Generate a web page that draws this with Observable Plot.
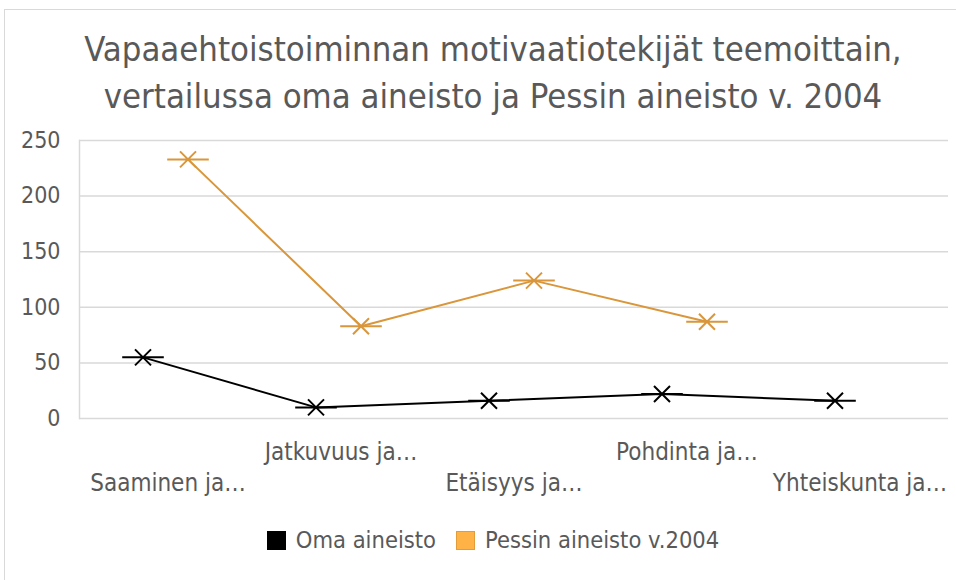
<!DOCTYPE html>
<html>
<head>
<meta charset="utf-8">
<script src="https://cdn.jsdelivr.net/npm/d3@7"></script>
<script src="https://cdn.jsdelivr.net/npm/@observablehq/plot@0.6"></script>
<style>
  html, body { margin: 0; padding: 0; background: #fff; }
  #wrap { position: relative; width: 956px; height: 580px; overflow: hidden; font-family: "DejaVu Sans Condensed", "DejaVu Sans", sans-serif; color: #595959; }
  #frame { position: absolute; left: 4px; top: 9px; width: 960px; height: 600px; border: 1px solid #d9d9d9; box-sizing: border-box; }
  #title { position: absolute; left: 15px; top: 26px; width: 956px; text-align: center; font-size: 34.4px; line-height: 47px; }
  #chart { position: absolute; left: 0; top: 120px; }
  #legend { position: absolute; left: 15px; top: 527px; width: 956px; display: flex; justify-content: center; align-items: center; font-size: 23.5px; line-height: 26px; }
  .sw { display: inline-block; width: 19px; height: 19px; margin-right: 10px; box-sizing: border-box; }
  .item { display: flex; align-items: center; margin: 0 10px; }
</style>
</head>
<body>
<div id="wrap">
  <div id="frame"></div>
  <div id="title">Vapaaehtoistoiminnan motivaatiotekijät teemoittain,<br>vertailussa oma aineisto ja Pessin aineisto v. 2004</div>
  <div id="chart"></div>
  <div id="legend"></div>
</div>
<script>
const categories = ["Saaminen ja…", "Jatkuvuus ja…", "Etäisyys ja…", "Pohdinta ja…", "Yhteiskunta ja…"];
const omaValues = [55, 10, 16, 22, 16];
const pessiValues = [233, 83, 124, 87, null];
const seriesNames = ["Oma aineisto", "Pessin aineisto v.2004"];
const yTicks = [0, 50, 100, 150, 200, 250];

const omaColor = "#000000";
const pessiColor = "#D9963A";

const oma = categories.map((c, i) => ({cat: c, value: omaValues[i]}));
const pessi = categories.map((c, i) => ({cat: c, value: pessiValues[i]})).filter(d => d.value != null);

const starDash = {
  draw(context, size) {
    const s = Math.sqrt(size / Math.PI);
    context.moveTo(-s, -s); context.lineTo(s, s);
    context.moveTo(-s, s); context.lineTo(s, -s);
    context.moveTo(-2.6 * s, 0); context.lineTo(2.6 * s, 0);
  }
};

const chart = Plot.plot({
  width: 956,
  height: 380,
  marginTop: 20,
  marginBottom: 82,
  marginLeft: 79,
  marginRight: 8,
  style: {fontFamily: "'DejaVu Sans Condensed', 'DejaVu Sans', sans-serif", fontSize: "22px", color: "#595959", background: "transparent"},
  x: {type: "band", domain: categories, padding: 0},
  y: {domain: [0, 250]},
  marks: [
    Plot.ruleY(yTicks, {stroke: "#d9d9d9", strokeWidth: 1.5}),
    Plot.frame({anchor: "left", stroke: "#d9d9d9", strokeWidth: 1.5}),
    Plot.axisY({ticks: yTicks, tickSize: 0, tickPadding: 19, fontSize: 23, label: null}),
    Plot.axisX({ticks: [categories[1], categories[3]], tickSize: 0, tickPadding: 24, fontSize: 24, label: null}),
    Plot.axisX({ticks: [categories[0], categories[2], categories[4]], tickSize: 0, tickPadding: 55, fontSize: 24, label: null}),
    Plot.line(oma, {x: "cat", y: "value", stroke: omaColor, strokeWidth: 2, dx: -25}),
    Plot.dot(oma, {x: "cat", y: "value", stroke: omaColor, strokeWidth: 2, r: 8, symbol: starDash, dx: -25}),
    Plot.line(pessi, {x: "cat", y: "value", stroke: pessiColor, strokeWidth: 2, dx: 20}),
    Plot.dot(pessi, {x: "cat", y: "value", stroke: pessiColor, strokeWidth: 2, r: 8, symbol: starDash, dx: 20})
  ]
});
document.getElementById("chart").appendChild(chart);

const legend = document.getElementById("legend");
const swatches = [
  {name: seriesNames[0], fill: "#000000", border: "#000000"},
  {name: seriesNames[1], fill: "#FFB347", border: "#E39C3A"}
];
swatches.forEach(s => {
  const item = document.createElement("span");
  item.className = "item";
  const sw = document.createElement("span");
  sw.className = "sw";
  sw.style.background = s.fill;
  sw.style.border = "1.5px solid " + s.border;
  item.appendChild(sw);
  const t = document.createElement("span");
  t.textContent = s.name;
  item.appendChild(t);
  legend.appendChild(item);
});
</script>
</body>
</html>
